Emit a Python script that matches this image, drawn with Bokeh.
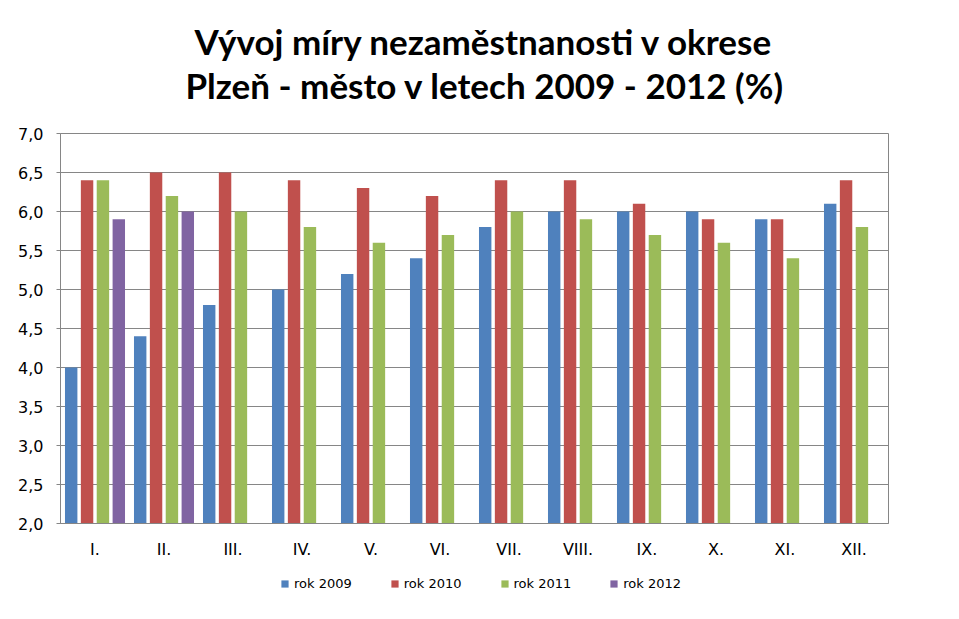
import numpy as np
from bokeh.plotting import figure
from bokeh.layouts import column
from bokeh.models import (FactorRange, Range1d, FixedTicker, CustomJSTickFormatter,
                          Legend, LegendItem, Title, ColumnDataSource)
from bokeh.transform import dodge
from bokeh.embed import file_html
from bokeh.resources import INLINE

months = ["I.", "II.", "III.", "IV.", "V.", "VI.", "VII.", "VIII.", "IX.", "X.", "XI.", "XII."]
rok_2009 = [4.0, 4.4, 4.8, 5.0, 5.2, 5.4, 5.8, 6.0, 6.0, 6.0, 5.9, 6.1]
rok_2010 = [6.4, 6.5, 6.5, 6.4, 6.3, 6.2, 6.4, 6.4, 6.1, 5.9, 5.9, 6.4]
rok_2011 = [6.4, 6.2, 6.0, 5.8, 5.6, 5.7, 6.0, 5.9, 5.7, 5.6, 5.4, 5.8]
rok_2012 = [5.9, 6.0, None, None, None, None, None, None, None, None, None, None]
series_names = ["rok 2009", "rok 2010", "rok 2011", "rok 2012"]
y_ticks = [2.0, 2.5, 3.0, 3.5, 4.0, 4.5, 5.0, 5.5, 6.0, 6.5, 7.0]

colors = ["#4F81BD", "#C0504D", "#9BBB59", "#8064A2"]
offsets = [-0.345, -0.115, 0.115, 0.345]
TFONT = "Lato"
FONT = "DejaVu Sans"

p = figure(x_range=FactorRange(*months), y_range=Range1d(2.0, 7.0),
           frame_width=828, frame_height=390,
           min_border_left=60, min_border_right=71, min_border_top=133, min_border_bottom=45,
           output_backend="svg", toolbar_location=None, tools="")
p.title = None

p.add_layout(Title(text=" ", text_font_size="23px", standoff=0), "above")
p.add_layout(Title(text="Plzeň - město v letech 2009 - 2012 (%)", align="left", offset=125,
                   text_font=TFONT, text_font_size="35px", text_font_style="bold",
                   text_line_height=0.85, text_color="#000000", standoff=0), "above")
p.add_layout(Title(text="Vývoj míry nezaměstnanosti v okrese", align="left", offset=134,
                   text_font=TFONT, text_font_size="35px", text_font_style="bold",
                   text_line_height=0.85, text_color="#000000", standoff=0), "above")

series = [rok_2009, rok_2010, rok_2011, rok_2012]
for name, vals, col, off in zip(series_names, series, colors, offsets):
    xs = [m for m, v in zip(months, vals) if v is not None]
    ys = [v for v in vals if v is not None]
    src = ColumnDataSource(dict(month=xs, val=ys))
    p.vbar(x=dodge("month", off, range=p.x_range), top="val", bottom=2.0, width=0.18,
           source=src, fill_color=col, line_color=None)

grey = "#868686"
p.outline_line_color = grey
p.xgrid.grid_line_color = None
p.ygrid.grid_line_color = grey
p.ygrid.ticker = FixedTicker(ticks=y_ticks)

p.yaxis.ticker = FixedTicker(ticks=y_ticks)
p.yaxis.formatter = CustomJSTickFormatter(code="return tick.toFixed(1).replace('.', ',');")
p.yaxis.axis_line_color = grey
p.yaxis.major_tick_line_color = grey
p.yaxis.major_tick_out = 4
p.yaxis.major_tick_in = 0
p.yaxis.minor_tick_line_color = None
p.yaxis.major_label_text_font = FONT
p.yaxis.major_label_text_font_size = "16px"
p.yaxis.major_label_text_color = "#000000"
p.yaxis.major_label_standoff = 13

p.xaxis.axis_line_color = grey
p.xaxis.major_tick_line_color = None
p.xaxis.major_tick_out = 0
p.xaxis.major_tick_in = 0
p.xaxis.minor_tick_line_color = None
p.xaxis.major_label_text_font = FONT
p.xaxis.major_label_text_font_size = "16px"
p.xaxis.major_label_text_color = "#000000"
p.xaxis.major_label_standoff = 16

# legend strip below the chart (legend-only renderers with a NaN height draw nothing)
lf = figure(frame_width=959, frame_height=50, x_range=Range1d(0, 1), y_range=Range1d(0, 1),
            min_border=0, x_axis_type=None, y_axis_type=None,
            output_backend="svg", toolbar_location=None, tools="")
lf.outline_line_color = None
lf.xgrid.grid_line_color = None
lf.ygrid.grid_line_color = None
items = []
for name, col in zip(series_names, colors):
    src = ColumnDataSource(dict(x=np.array([0.5]), top=np.array([np.nan])))
    r = lf.vbar(x="x", top="top", width=0.1, source=src, fill_color=col, line_color=None)
    items.append(LegendItem(label=name, renderers=[r]))
legend = Legend(items=items, orientation="horizontal", location=(280, 27),
                glyph_width=9, glyph_height=9, spacing=38, label_standoff=5,
                label_text_font=FONT, label_text_font_size="13px", label_text_color="#000000",
                border_line_color=None, background_fill_alpha=0, padding=0, margin=0)
lf.add_layout(legend, "center")

layout = column(p, lf, spacing=0)
open("out.html", "w").write(file_html(layout, INLINE))
